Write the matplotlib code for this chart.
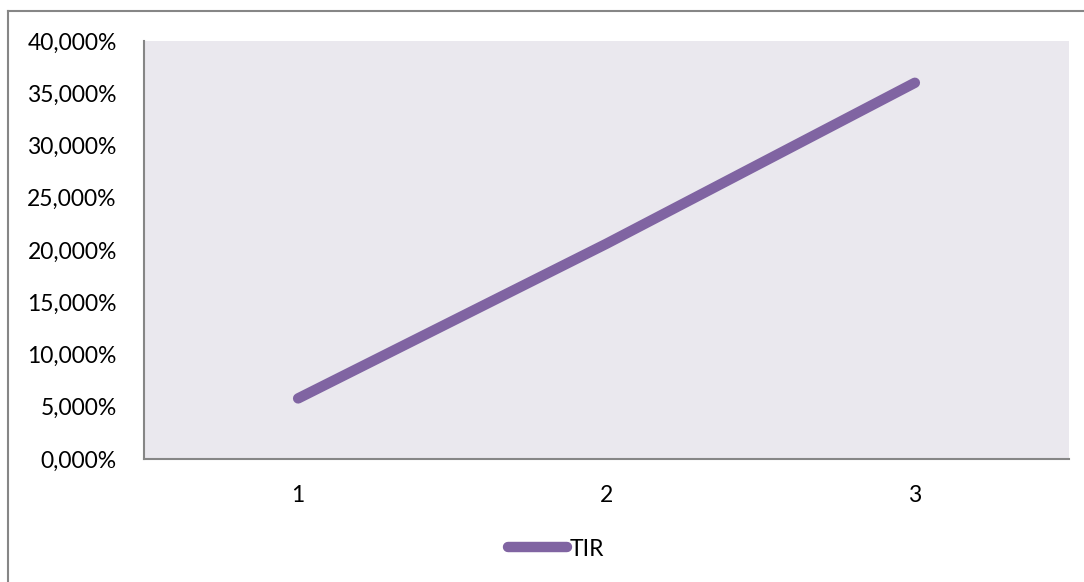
import matplotlib.pyplot as plt
from matplotlib.lines import Line2D
from matplotlib.ticker import FuncFormatter

categories = ['1', '2', '3']
tir = [5.8, 20.6, 36.0]
y_ticks = [0, 5, 10, 15, 20, 25, 30, 35, 40]

plt.rcParams['font.family'] = ['Lato', 'DejaVu Sans']

fig = plt.figure(figsize=(10.84, 5.82), dpi=100)
ax = fig.add_axes([0.1328, 0.2113, 0.8534, 0.7183])
ax.set_facecolor('#EAE8EE')

x = range(1, len(categories) + 1)
ax.plot(x, tir, color='#8064A2', linewidth=7.5, solid_capstyle='round', label='TIR')

ax.set_xlim(0.5, 3.5)
ax.set_ylim(0, 40)
ax.set_xticks(list(x))
ax.set_xticklabels(categories)
ax.set_yticks(y_ticks)
ax.yaxis.set_major_formatter(FuncFormatter(lambda v, p: f'{v:.3f}'.replace('.', ',') + '%'))
ax.tick_params(length=0, labelsize=16.5, colors='black')
ax.tick_params(axis='y', pad=19.5)
ax.tick_params(axis='x', pad=18.5)

for s in ['top', 'right']:
    ax.spines[s].set_visible(False)
for s in ['left', 'bottom']:
    ax.spines[s].set_color('#868686')
    ax.spines[s].set_linewidth(1.5)

leg = ax.legend(loc='center', bbox_to_anchor=(0.513, 1 - 549 / 582), bbox_transform=fig.transFigure,
                frameon=False, fontsize=16.5, handlelength=2.58, handletextpad=0.13)

# outer chart border (left and top only visible)
fig.add_artist(Line2D([8 / 1084, 8 / 1084], [0, 1 - 11 / 582], color='#868686', linewidth=1.5,
                      transform=fig.transFigure))
fig.add_artist(Line2D([8 / 1084, 1], [1 - 11 / 582, 1 - 11 / 582], color='#868686', linewidth=1.5,
                      transform=fig.transFigure))

fig.savefig('out.png', dpi=100)
